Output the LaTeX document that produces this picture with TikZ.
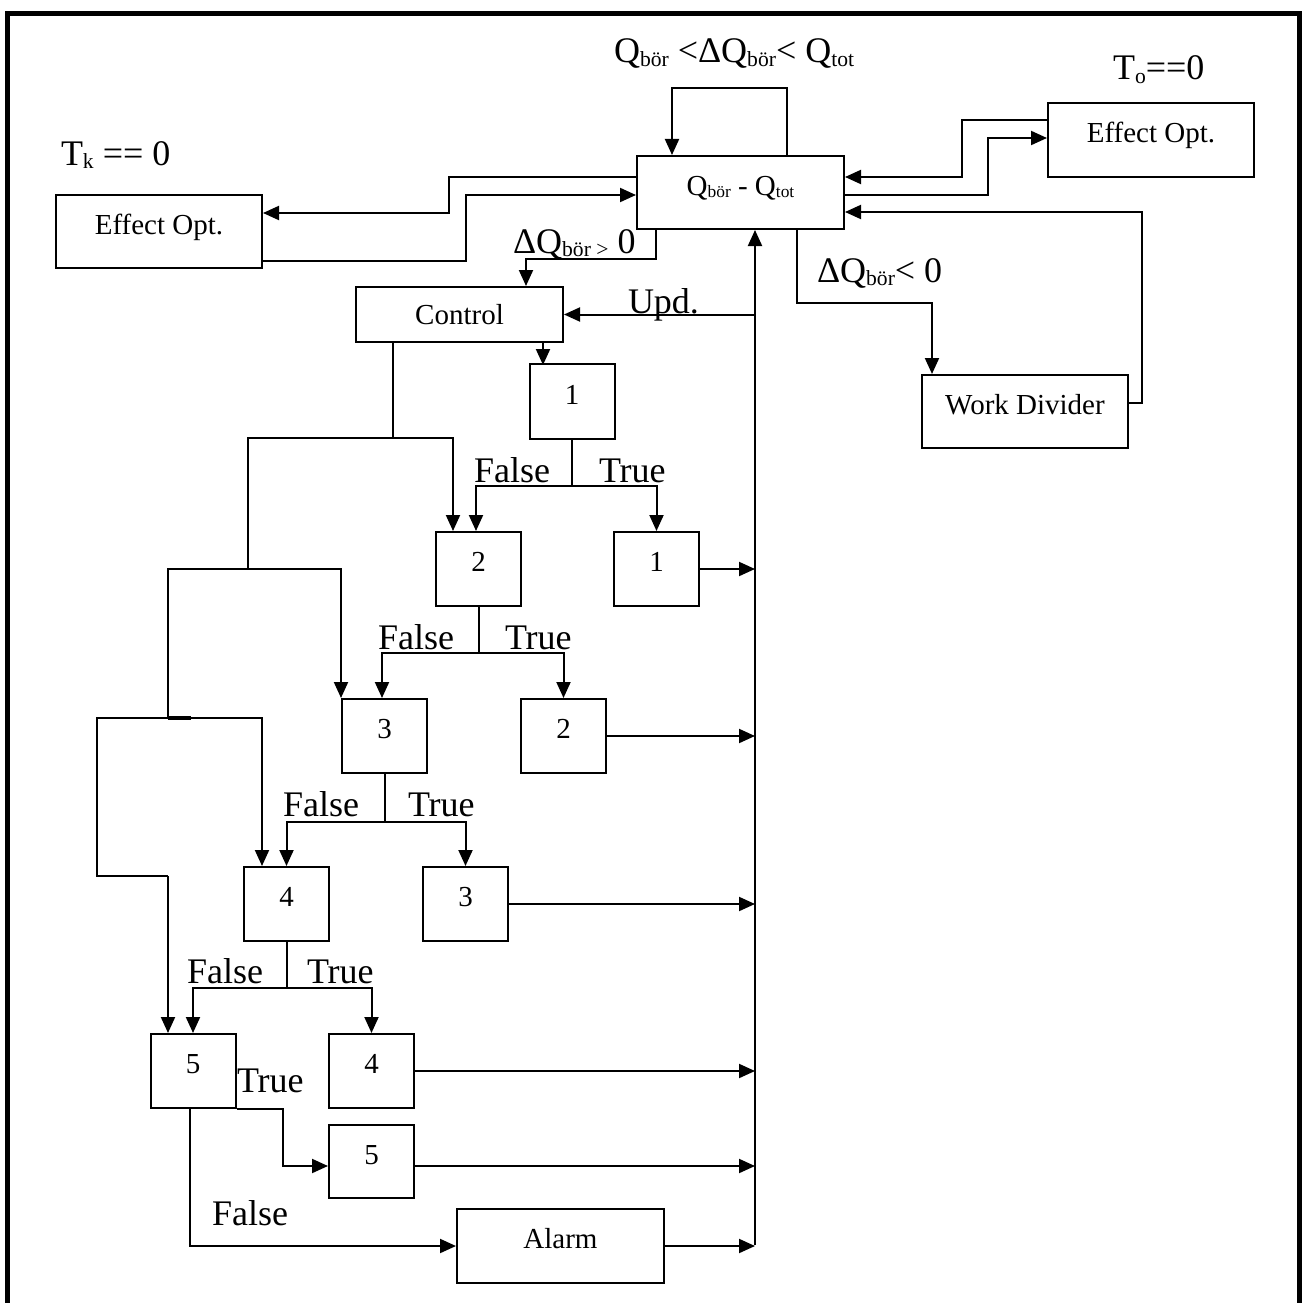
\documentclass[tikz,border=0pt]{standalone}
\usepackage{fontspec}
\usepackage{graphicx}
\setmainfont{Liberation Serif}
\usetikzlibrary{arrows.meta}
\newcommand\bigf{\fontsize{36}{43}\selectfont}
\newcommand\boxf{\fontsize{29}{35}\selectfont}
\newcommand\sbs[1]{\raisebox{-0.1em}{\scalebox{0.6}{#1}}}
\begin{document}
\begin{tikzpicture}[x=1pt,y=-1pt,line width=2pt,
  blk/.style={draw,line width=2pt,inner sep=0pt,font=\boxf,text height=20pt,text depth=15pt},
  wide/.style={blk,minimum width=206pt,minimum height=73pt},
  sq/.style={blk,minimum width=85pt,minimum height=74pt},
  arr/.style={-{Triangle[length=16pt,width=14pt]}},
  lbl/.style={font=\bigf,anchor=base west,inner sep=0pt}]
\useasboundingbox (0,0) rectangle (1307,1303);
% frame
\draw[line width=5pt] (7.5,1303) -- (7.5,14) -- (1299,14) -- (1299,1303);

% boxes
\node[wide,minimum width=207pt] (Q) at (740.5,192.5) {Q\sbs{bör} - Q\sbs{tot}};
\node[wide] (EffL) at (159,231.5) {Effect Opt.};
\node[wide,minimum height=74pt] (EffR) at (1151,140) {Effect Opt.};
\node[draw,line width=2pt,font=\boxf,inner sep=0pt,minimum width=207pt,minimum height=55pt] (Ctrl) at (459.5,314.5) {Control};
\node[wide] (WD) at (1025,411.5) {Work Divider};
\node[sq,minimum height=75pt] (D1) at (572,401.5) {1};
\node[sq] (D2) at (478.5,569) {2};
\node[sq] (R1) at (656.5,569) {1};
\node[sq] (D3) at (384.5,736) {3};
\node[sq] (R2) at (563.5,736) {2};
\node[sq] (D4) at (286.5,904) {4};
\node[sq] (R3) at (465.5,904) {3};
\node[sq] (D5) at (193,1071) {5};
\node[sq] (R4) at (371.5,1071) {4};
\node[sq,minimum height=73pt] (R5) at (371.5,1161.5) {5};
\node[wide,minimum width=207pt,minimum height=74pt] (Alarm) at (560.5,1246) {Alarm};

% coordinates
\coordinate (bus) at (755,1245);
\coordinate (j1) at (393,438);
\coordinate (j2) at (248,569);
\coordinate (j3) at (168,718);
\coordinate (j4) at (168,876);

% Q box connections
\draw[arr] ([xshift=46.5pt]Q.north) -- ++(0,-67) -| ([xshift=-68.5pt]Q.north);
\draw[arr] ([yshift=15.5pt]Q.west) -- ++(-187,0) |- ([yshift=18.5pt]EffL.east);
\draw[arr] ([yshift=-29.5pt]EffL.east) -- ++(203,0) |- ([yshift=-2.5pt]Q.west);
\draw[arr] ([yshift=20pt]EffR.west) -- ++(-85,0) |- ([yshift=15.5pt]Q.east);
\draw[arr] ([yshift=-2.5pt]Q.east) -- ++(143,0) |- ([yshift=2pt]EffR.west);
\draw[arr] ([yshift=8.5pt]WD.east) -- ++(13,0) |- ([yshift=-19.5pt]Q.east);
\draw[arr] ([xshift=56.5pt]Q.south) -- ++(0,73) -| ([xshift=-93pt]WD.north);
\draw[arr] ([xshift=-84.5pt]Q.south) -- ++(0,29) -| ([xshift=66.5pt]Ctrl.north);
\draw[arr] (bus) -- (bus |- Q.south);
\draw[arr] (Ctrl.east -| bus) -- (Ctrl.east);

% control
\draw[arr] ([xshift=83.5pt]Ctrl.south) -- ++(0,22);
\draw[arr] (j1 |- Ctrl.south) -- (j1) -| ([xshift=-25.5pt]D2.north);
\draw (j1) -| (j2);
\draw[arr] (j2) -| (D3.north west);
\draw (j2) -| (j3);
\draw[arr] (j3) -| ([xshift=-24.5pt]D4.north);
\draw (j3) -- ++(-71,0) |- (j4);
\draw[arr] (j4) -- (j4 |- D5.north);
\draw[line width=3.5pt] (j3) -- ++(23,0);

% decisions
\draw (D1.south) -- ++(0,46) coordinate (k1);
\draw[arr] (k1) -| ([xshift=-2.5pt]D2.north);
\draw[arr] (k1) -| (R1.north);
\draw (D2.south) -- ++(0,46) coordinate (k2);
\draw[arr] (k2) -| ([xshift=-2.5pt]D3.north);
\draw[arr] (k2) -| (R2.north);
\draw (D3.south) -- ++(0,48) coordinate (k3);
\draw[arr] (k3) -| (D4.north);
\draw[arr] (k3) -| (R3.north);
\draw (D4.south) -- ++(0,46) coordinate (k4);
\draw[arr] (k4) -| (D5.north);
\draw[arr] (k4) -| (R4.north);
\draw[arr] (D5.south east) -- ++(46,0) |- ([yshift=-4.5pt]R5.west);
\draw[arr] ([xshift=-3pt]D5.south) |- (Alarm.west);

% results to bus
\draw[arr] (R1.east) -- (R1.east -| bus);
\draw[arr] (R2.east) -- (R2.east -| bus);
\draw[arr] (R3.east) -- (R3.east -| bus);
\draw[arr] (R4.east) -- (R4.east -| bus);
\draw[arr] ([yshift=-4.5pt]R5.east) coordinate (r5) -- (r5 -| bus);
\draw[arr] (Alarm.east) -- (Alarm.east -| bus);

% labels
\node[lbl] (lTop) at (613,63) {Q\sbs{bör} <ΔQ\sbs{bör}< Q\sbs{tot}};
\node[lbl] (lTo) at (1112,80) {T\sbs{o}==0};
\node[lbl] (lTk) at (60,165) {T\sbs{k} == 0};
\node[lbl] (lPos) at (512,253) {ΔQ\sbs{bör >} 0};
\node[lbl] (lUpd) at (627,313) {Upd.};
\node[lbl] (lNeg) at (816,282) {ΔQ\sbs{bör}< 0};
\node[lbl] (f1) at (473,482) {False};
\node[lbl] (t1) at (598,482) {True};
\node[lbl] (f2) at (377,649) {False};
\node[lbl] (t2) at (504,649) {True};
\node[lbl] (f3) at (282,816) {False};
\node[lbl] (t3) at (407,816) {True};
\node[lbl] (f4) at (186,983) {False};
\node[lbl] (t4) at (306,983) {True};
\node[lbl] (t5) at (236,1092) {True};
\node[lbl] (f5) at (211,1225) {False};
\end{tikzpicture}
\end{document}
